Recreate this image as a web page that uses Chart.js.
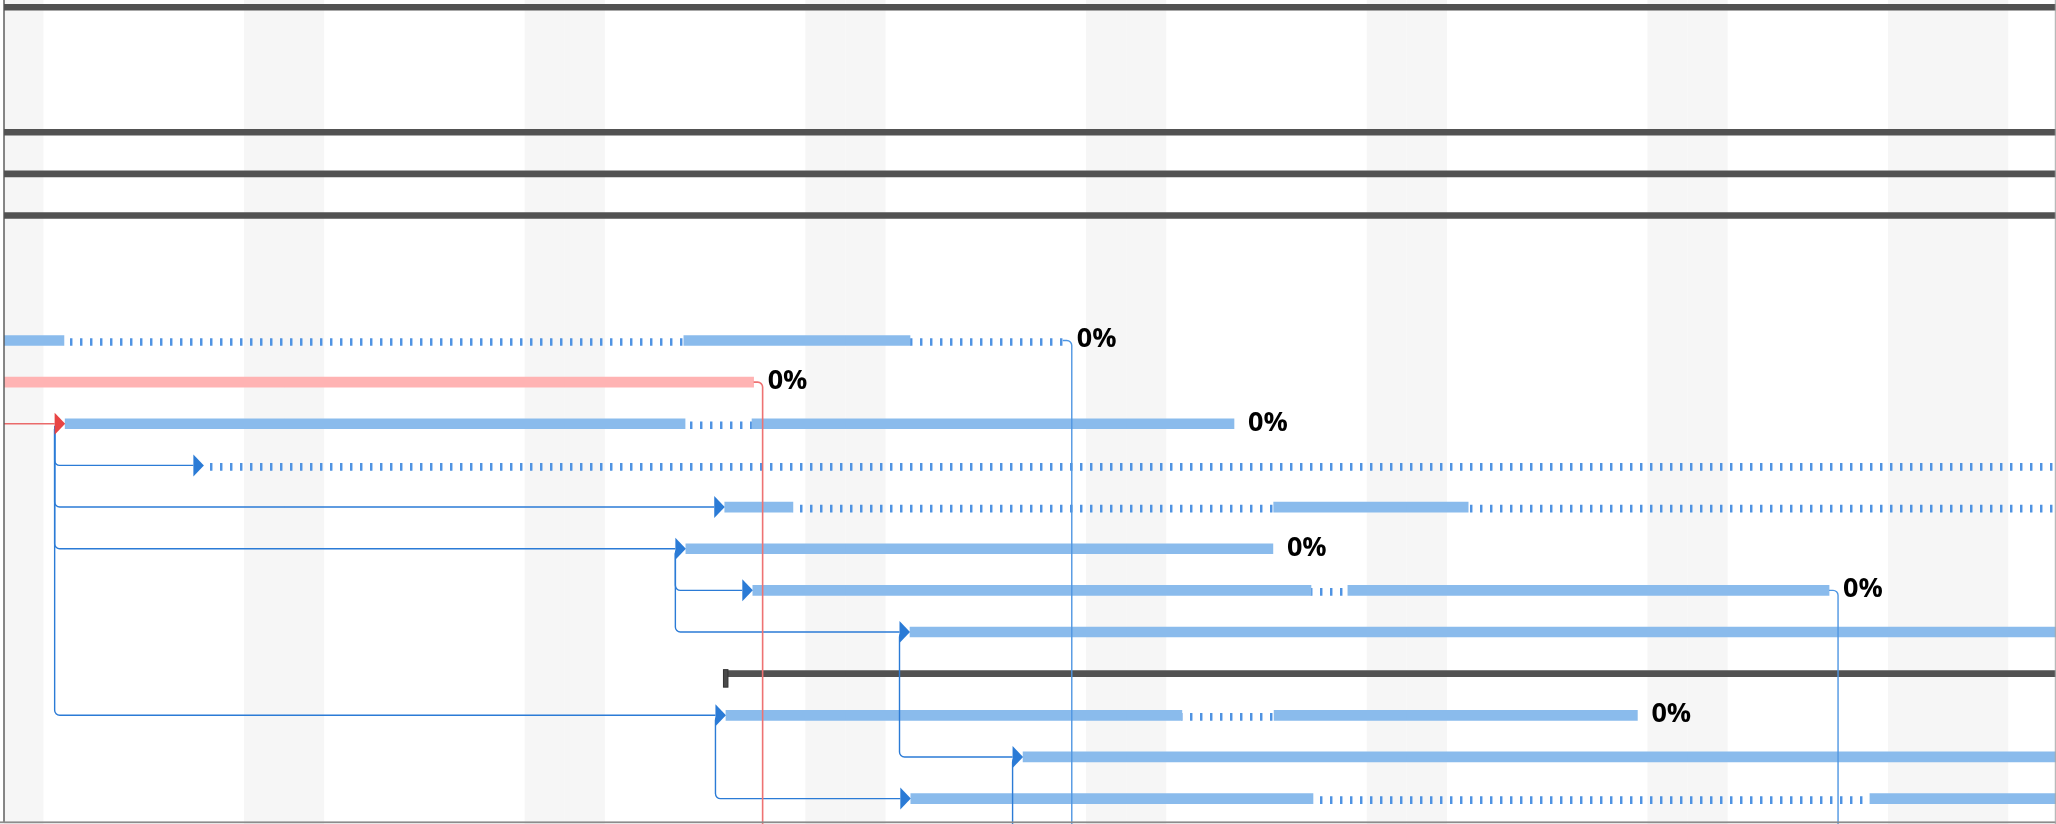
<!DOCTYPE html>
<html>
<head>
<meta charset="utf-8">
<script src="https://cdn.jsdelivr.net/npm/chart.js@4.4.1/dist/chart.umd.min.js"></script>
<style>
    html, body { margin: 0; padding: 0; background: #fff; }
    #wrap { width: 2056px; height: 824px; position: relative; }
</style>
</head>
<body>
<div id="wrap"><canvas id="gantt"></canvas></div>
<script>
// Visible window (days from the first Sunday on screen, rows from the top)
const dayRange = [0.015, 51.19];
const rowRange = [-0.175, 19.61];

// Weekends + the Friday holiday
const nonWorkingDays = [-1, 0, 6, 7, 13, 14, 20, 21, 27, 28, 34, 35, 41, 42, 47, 48, 49];

// Summary (group) rows
const summaryRow   = [0, 3, 4, 5, 16];
const summaryStart = [-3, -3, -3, -3, 17.97];
const summaryEnd   = [55, 55, 55, 55, 55];

// Tasks
const taskRow      = [8, 9, 10, 11, 12, 13, 14, 15, 17, 18, 19];
const taskStart    = [-3, -3, 1.54, 5.0, 17.99, 17.02, 18.69, 22.61, 18.02, 25.43, 22.63];
const taskEnd      = [26.42, 18.71, 30.69, 55, 55, 31.66, 45.53, 55, 40.75, 55, 55];
const taskCritical = [false, true, false, false, false, false, false, false, false, false, false];
const taskProgress = ['0%', '0%', '0%', '', '', '0%', '0%', '', '0%', '', ''];

// Split tasks: idle stretches shown dotted
const gapRow   = [8, 8, 10, 11, 12, 12, 14, 17, 19];
const gapStart = [1.51, 22.61, 17.0, 5.0, 19.69, 36.53, 32.61, 29.39, 32.66];
const gapEnd   = [16.97, 26.42, 18.67, 55, 31.68, 55, 33.53, 31.69, 46.55];

// Dependencies (SS = start-to-start, FS = finish-to-start), row 22 is below the window
const linkFrom = [10, 10, 10, 10, 13, 13, 15, 17, 18, 8, 9, 14];
const linkTo   = [11, 12, 13, 17, 14, 15, 18, 19, 22, 22, 22, 22];
const linkType = ['SS', 'SS', 'SS', 'SS', 'SS', 'SS', 'SS', 'SS', 'SS', 'FS', 'FS', 'FS'];

// Critical link coming in from a task left of the window
const incomingRow  = [10];
const incomingFrom = [-3];

const ARROW_W = 10.5;
const ARROW_H = 22;
const RADIUS = 5;

// Build bar pieces from tasks and their gaps
const solidBars = [];
const criticalBars = [];
const dottedBars = [];
taskRow.forEach((row, i) => {
    const gaps = gapRow
        .map((r, g) => (r === row ? [gapStart[g], gapEnd[g]] : null))
        .filter(Boolean)
        .sort((a, b) => a[0] - b[0]);
    const target = taskCritical[i] ? criticalBars : solidBars;
    let cursor = taskStart[i];
    gaps.forEach(([a, b]) => {
        if (a > cursor) target.push({ x: [cursor, a], y: row });
        dottedBars.push({ x: [a, b], y: row });
        cursor = b;
    });
    if (taskEnd[i] > cursor) target.push({ x: [cursor, taskEnd[i]], y: row });
});

const canvas = document.getElementById('gantt');
const dotPattern = (() => {
    const c = document.createElement('canvas');
    c.width = 10;
    c.height = 8;
    const g = c.getContext('2d');
    g.fillStyle = '#4f93e2';
    g.fillRect(0, 0, 2, 8);
    g.fillStyle = 'rgba(79, 147, 226, 0.45)';
    g.fillRect(2, 0, 1, 8);
    return canvas.getContext('2d').createPattern(c, 'repeat');
})();

const clipToArea = (ctx, area) => {
    ctx.beginPath();
    ctx.rect(area.left, area.top, area.right - area.left, area.bottom - area.top);
    ctx.clip();
};

const ganttDecor = {
    id: 'ganttDecor',
    beforeDatasetsDraw(chart) {
        const { ctx, chartArea, scales } = chart;
        ctx.save();
        clipToArea(ctx, chartArea);
        ctx.fillStyle = '#f6f6f6';
        nonWorkingDays.forEach(d => {
            const x0 = scales.x.getPixelForValue(d);
            const x1 = scales.x.getPixelForValue(d + 1);
            ctx.fillRect(x0, chartArea.top, x1 - x0, chartArea.bottom - chartArea.top);
        });
        ctx.restore();
    },
    beforeDatasetDraw(chart, args) {
        if (args.index === 3) {
            chart.ctx.save();
            chart.ctx.translate(0, 1.5);
        }
    },
    afterDatasetDraw(chart, args) {
        if (args.index === 3) chart.ctx.restore();
    },
    afterDatasetsDraw(chart) {
        const { ctx, chartArea, scales } = chart;
        const X = v => scales.x.getPixelForValue(v);
        const Y = r => scales.y.getPixelForValue(r);

        const arrow = (tipX, y, color) => {
            ctx.fillStyle = color;
            ctx.beginPath();
            ctx.moveTo(tipX, y);
            ctx.lineTo(tipX - ARROW_W, y - ARROW_H / 2);
            ctx.lineTo(tipX - ARROW_W, y + ARROW_H / 2);
            ctx.closePath();
            ctx.fill();
        };

        ctx.save();
        clipToArea(ctx, chartArea);

        // summary start marker
        summaryRow.forEach((row, i) => {
            const x = X(summaryStart[i]);
            const y = Y(row);
            ctx.fillStyle = '#4a4a4a';
            ctx.strokeStyle = '#333';
            ctx.lineWidth = 1;
            ctx.fillRect(x - 0.5, y - 4, 4.5, 17.5);
            ctx.strokeRect(x - 0.5, y - 4, 4.5, 17.5);
        });

        // dependency lines
        const arrows = [];
        linkFrom.forEach((from, k) => {
            const a = taskRow.indexOf(from);
            const b = taskRow.indexOf(linkTo[k]);
            const y0 = Y(from);
            const y1 = Y(linkTo[k]);
            const critical = taskCritical[a];
            ctx.lineWidth = 1.4;
            ctx.beginPath();
            if (linkType[k] === 'SS') {
                const xv = X(taskStart[a]) - ARROW_W;
                ctx.strokeStyle = '#2b7bd6';
                ctx.moveTo(xv + RADIUS, y0);
                ctx.arcTo(xv, y0, xv, y0 + RADIUS, RADIUS);
                if (b >= 0) {
                    const xt = X(taskStart[b]);
                    ctx.lineTo(xv, y1 - RADIUS);
                    ctx.arcTo(xv, y1, xv + RADIUS, y1, RADIUS);
                    ctx.lineTo(xt - ARROW_W, y1);
                    arrows.push([xt, y1, '#2b7bd6']);
                } else {
                    ctx.lineTo(xv, y1);
                }
            } else {
                const xe = X(taskEnd[a]);
                const xv = xe + 9;
                ctx.strokeStyle = critical ? '#ee7272' : '#4f96e2';
                ctx.lineWidth = critical ? 1.6 : 1.4;
                ctx.moveTo(xe, y0);
                ctx.lineTo(xv - RADIUS, y0);
                ctx.arcTo(xv, y0, xv, y0 + RADIUS, RADIUS);
                ctx.lineTo(xv, y1);
            }
            ctx.stroke();
        });

        incomingRow.forEach((row, k) => {
            const b = taskRow.indexOf(row);
            const xt = X(taskStart[b]);
            const y = Y(row);
            ctx.strokeStyle = '#ea6a6a';
            ctx.lineWidth = 1.4;
            ctx.beginPath();
            ctx.moveTo(X(incomingFrom[k]), y);
            ctx.lineTo(xt - ARROW_W, y);
            ctx.stroke();
            arrows.push([xt, y, '#e84444']);
        });

        arrows.sort((p, q) => (p[2] === q[2] ? 0 : p[2] === '#e84444' ? -1 : 1));
        arrows.forEach(([x, y, c]) => arrow(x, y, c));

        // progress labels
        ctx.fillStyle = '#000';
        ctx.font = 'bold 27px "Open Sans"';
        ctx.textBaseline = 'alphabetic';
        taskRow.forEach((row, i) => {
            if (!taskProgress[i]) return;
            ctx.fillText(taskProgress[i], X(taskEnd[i]) + 14, Y(row) + 7);
        });
        ctx.restore();

        // frame
        ctx.save();
        ctx.fillStyle = '#555';
        ctx.fillRect(chartArea.left - 0.7, chartArea.top, 1.4, chartArea.bottom - chartArea.top - 2);
        ctx.fillStyle = '#8c8c8c';
        ctx.fillRect(0, chartArea.bottom - 2.6, chartArea.right, 1.8);
        ctx.fillStyle = '#a8a8a8';
        ctx.fillRect(chartArea.right - 1.2, chartArea.top, 1, chartArea.bottom - chartArea.top);
        ctx.restore();
    }
};

new Chart(canvas, {
    type: 'bar',
    data: {
        datasets: [
            { label: 'Summary', data: summaryRow.map((r, i) => ({ x: [summaryStart[i], summaryEnd[i]], y: r })), backgroundColor: '#525252', barThickness: 6 },
            { label: 'Critical', data: criticalBars, backgroundColor: '#ffb3b3', barThickness: 10 },
            { label: 'Task', data: solidBars, backgroundColor: '#8abbec', barThickness: 10 },
            { label: 'Split', data: dottedBars, backgroundColor: dotPattern, barThickness: 7 }
        ]
    },
    options: {
        indexAxis: 'y',
        responsive: true,
        maintainAspectRatio: false,
        animation: false,
        events: [],
        layout: { padding: { left: 4, top: 0, right: 0, bottom: 0 } },
        datasets: { bar: { grouped: false, borderWidth: 0, borderSkipped: false } },
        plugins: { legend: { display: false }, tooltip: { enabled: false } },
        scales: {
            x: { type: 'linear', min: dayRange[0], max: dayRange[1], display: false, offset: false, bounds: 'data', grace: 0 },
            y: { type: 'linear', min: rowRange[0], max: rowRange[1], reverse: true, display: false, offset: false, bounds: 'data', grace: 0 }
        }
    },
    plugins: [ganttDecor]
});
</script>
</body>
</html>
